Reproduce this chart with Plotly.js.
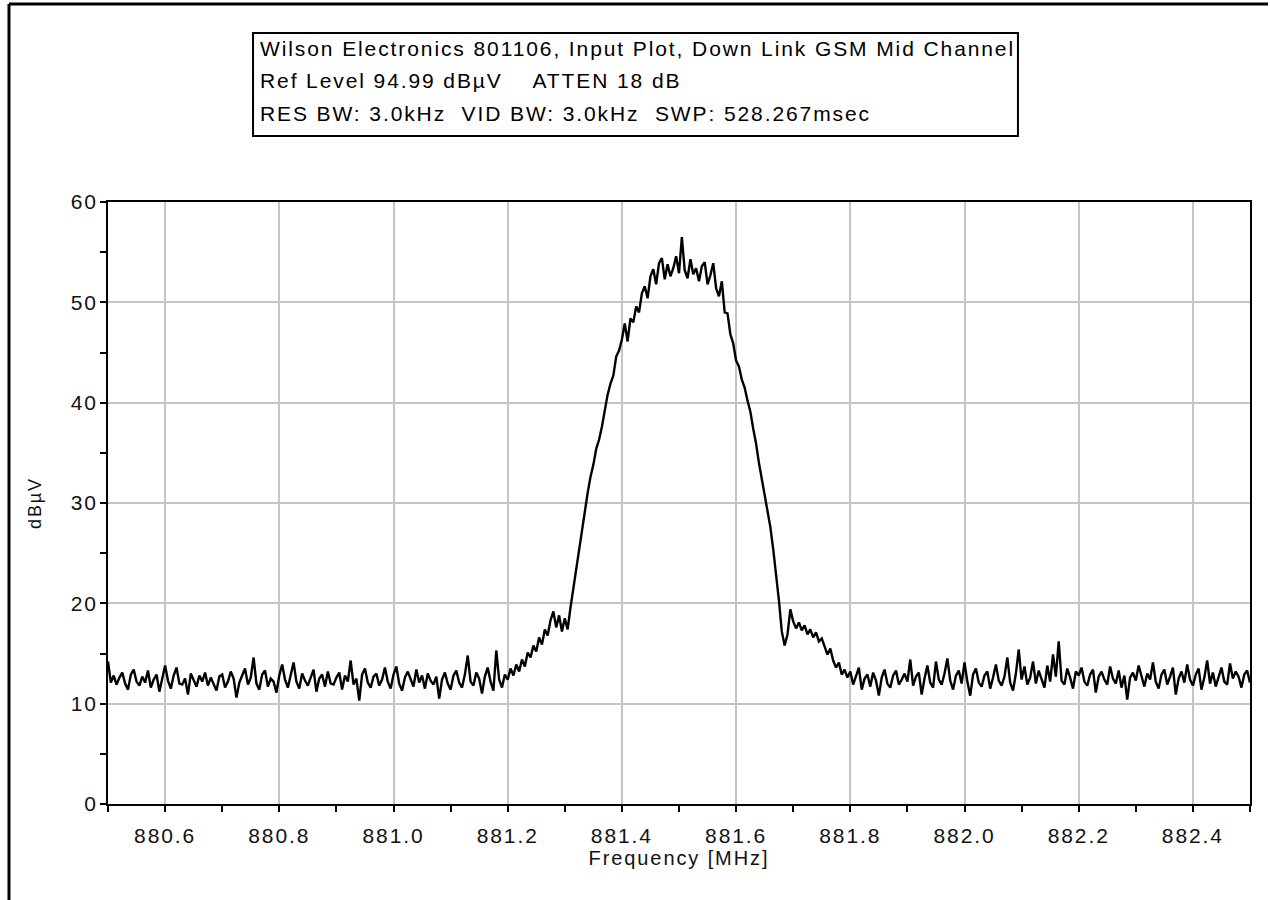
<!DOCTYPE html>
<html>
<head>
<meta charset="utf-8">
<script src="https://cdn.plot.ly/plotly-3.0.1.min.js"></script>
<style>
  html, body { margin: 0; padding: 0; background: #ffffff; }
  #chart { width: 1270px; height: 900px; }
  /* the instrument printout uses a wide sans face; applied to every svg text so measured sizes agree */
  svg text { letter-spacing: 1.9px; }
</style>
</head>
<body>
<div id="chart"></div>
<script>
// Sweep settings: first point and spacing of the spectrum analyser trace (MHz)
const START_MHZ = 880.5;
const STEP_MHZ = 0.005;

// Measured level per sweep point (dBµV), 20 points per 0.1 MHz row
const levelDbuv = [
  14.2, 12.1, 12.8, 11.9, 12.6, 13.1, 12.0, 11.4, 12.9, 13.4, 12.2, 11.8, 12.7, 12.1, 13.3, 11.6, 12.4, 12.9, 11.2, 12.6,
  13.8, 12.3, 11.5, 12.8, 13.6, 12.0, 11.9, 12.5, 10.9, 13.0, 12.4, 11.7, 12.8, 12.2, 13.1, 11.8, 12.6, 12.0, 11.3, 12.7,
  12.9, 11.6, 12.2, 13.2, 12.5, 10.6, 12.1, 12.8, 13.5, 11.9, 12.6, 14.6, 12.0, 11.4, 12.9, 13.3, 11.7, 12.5, 12.2, 11.1,
  12.8, 13.9, 12.4, 11.6, 12.7, 14.1, 12.2, 11.5, 13.0, 12.3, 11.8, 12.6, 13.4, 11.2, 12.5, 12.9, 11.7, 13.2, 12.0, 11.9,
  12.6, 13.1, 11.4, 12.8, 12.2, 14.3, 11.9, 12.5, 10.3, 12.9, 13.5, 12.1, 11.6, 12.7, 13.0, 11.8, 12.4, 13.6, 12.2, 11.5,
  12.9, 13.7, 12.0, 11.3, 12.6, 13.2, 12.4, 11.7, 13.4, 12.1, 12.8, 11.5, 13.0, 12.3, 11.9, 12.7, 10.5, 12.4, 13.1, 12.0,
  11.4, 12.8, 13.3, 12.1, 11.6, 12.9, 14.8, 12.2, 11.8, 13.1, 12.5, 11.0, 12.7, 13.6, 12.2, 11.3, 15.3, 12.4, 11.6, 12.9,
  12.4, 13.5, 12.8, 13.9, 13.2, 14.4, 13.7, 15.1, 14.6, 15.8, 15.2, 16.6, 15.9, 17.4, 16.8, 18.3, 19.2, 17.6, 18.8, 17.2,
  18.5, 17.4, 19.6, 21.5, 23.8, 25.6, 27.4, 29.3, 31.0, 32.6, 33.8, 35.4, 36.3, 37.6, 39.2, 40.8, 41.9, 42.7, 44.6, 45.2,
  46.3, 47.9, 46.1, 48.4, 48.0, 49.6, 49.0, 50.9, 51.6, 50.4, 52.6, 53.3, 51.8, 53.9, 54.4, 52.3, 53.8, 52.6, 53.4, 54.6,
  52.9, 56.5, 53.2, 52.4, 54.3, 52.8, 53.4, 52.1, 53.6, 54.0, 51.8, 52.7, 53.9, 51.4, 50.6, 52.1, 49.0, 48.9, 46.8, 45.9,
  44.2, 43.6, 42.3, 41.5, 40.2, 39.1, 37.4, 35.9, 34.0, 32.3, 30.6, 29.1, 27.6, 25.4, 23.1, 20.3, 17.2, 15.8, 16.9, 19.4,
  18.2, 17.5, 18.1, 17.3, 17.8, 16.9, 17.4, 16.6, 17.1, 16.2, 16.5, 15.7, 14.9, 15.5, 14.3, 13.6, 14.1, 12.9, 13.4, 12.6,
  13.2, 11.9, 12.7, 13.6, 11.4, 12.5, 12.9, 11.7, 13.1, 12.3, 10.8, 12.6, 13.4, 12.0, 11.6, 12.8, 13.3, 11.9, 12.4, 13.0,
  12.2, 14.4, 11.8, 12.7, 13.1, 10.9, 12.5, 13.8, 12.1, 11.6, 14.2, 12.4, 11.9, 13.0, 14.5, 12.3, 11.4, 12.8, 13.3, 12.0,
  14.1, 12.2, 10.8, 12.9, 13.5, 12.1, 11.7, 12.8, 13.2, 11.5, 12.6, 13.9, 12.3, 11.8, 12.7, 14.6, 12.1, 11.3, 13.0, 15.4,
  12.4, 13.7, 11.9, 12.6, 14.2, 12.0, 13.3, 12.5, 11.6, 13.8, 12.2, 14.9, 12.7, 16.2, 12.3, 11.9, 13.5, 12.6, 11.5, 13.2,
  12.8, 13.6, 12.2, 11.8, 12.9, 13.4, 11.1, 12.7, 13.2, 12.4, 11.9, 13.7, 12.5, 12.0, 13.3, 11.6, 12.8, 10.4, 12.6, 13.1,
  12.3, 13.8, 12.6, 11.7, 13.0, 12.4, 14.1, 12.2, 11.5, 12.9, 13.4, 11.9, 12.7, 13.6, 10.9, 12.5, 13.2, 12.1, 13.9, 12.4,
  11.8, 12.9, 13.5, 11.4, 12.6, 14.3, 12.0, 13.1, 11.7, 12.8, 13.6, 12.2, 11.9, 14.0, 12.5, 13.2, 12.7, 11.6, 12.9, 13.3,
  12.1
];

// Axis ticks and labels
const xTickVals = [880.6, 880.8, 881.0, 881.2, 881.4, 881.6, 881.8, 882.0, 882.2, 882.4];
const xTickText = ["880.6", "880.8", "881.0", "881.2", "881.4", "881.6", "881.8", "882.0", "882.2", "882.4"];
const yTickVals = [0, 10, 20, 30, 40, 50, 60];

// Header lines shown in the boxed caption
const headerLines = [
  "Wilson Electronics 801106, Input Plot, Down Link GSM Mid Channel",
  "Ref Level 94.99 dBµV    ATTEN 18 dB",
  "RES BW: 3.0kHz  VID BW: 3.0kHz  SWP: 528.267msec"
];

const FONT = "Liberation Sans, Arial, sans-serif";

const trace = {
  type: "scatter",
  mode: "lines",
  x0: START_MHZ,
  dx: STEP_MHZ,
  y: levelDbuv,
  line: { color: "#000000", width: 2.4 },
  hoverinfo: "x+y",
  showlegend: false
};

// Caption box geometry (paper coordinates)
const boxX0 = 0.127, boxX1 = 0.7968, boxY0 = 1.1096, boxY1 = 1.2807;
const lineYs = [1.2542, 1.2010, 1.1478];

const annotations = headerLines.map((t, i) => ({
  xref: "paper", yref: "paper",
  x: 0.1313, y: lineYs[i],
  xanchor: "left", yanchor: "middle",
  align: "left",
  text: t,
  showarrow: false,
  font: { family: FONT, size: 21, color: "#000000" }
}));

const layout = {
  width: 1270,
  height: 900,
  paper_bgcolor: "#ffffff",
  plot_bgcolor: "#ffffff",
  margin: { l: 108, r: 20, t: 202, b: 96, pad: 0 },
  font: { family: FONT, color: "#111111" },
  xaxis: {
    range: [880.5, 882.5],
    tickmode: "array",
    tickvals: xTickVals,
    ticktext: xTickText,
    ticks: "outside",
    ticklen: 6,
    tickwidth: 2,
    tickcolor: "#000000",
    ticklabelstandoff: 6,
    tickfont: { family: FONT, size: 21, color: "#111111" },
    showline: true,
    linecolor: "#000000",
    linewidth: 2,
    mirror: true,
    showgrid: true,
    gridcolor: "#c4c4c4",
    gridwidth: 2,
    zeroline: false,
    minor: { dtick: 0.1, tick0: 880.5, ticks: "outside", ticklen: 6, tickwidth: 2, tickcolor: "#000000", showgrid: false },
    title: { text: "Frequency [MHz]", font: { family: FONT, size: 20, color: "#111111" }, standoff: 0 }
  },
  yaxis: {
    range: [0, 60],
    tickmode: "array",
    tickvals: yTickVals,
    ticks: "outside",
    ticklen: 6,
    tickwidth: 2,
    tickcolor: "#000000",
    ticklabelstandoff: -2,
    tickfont: { family: FONT, size: 21, color: "#111111" },
    showline: true,
    linecolor: "#000000",
    linewidth: 2,
    mirror: true,
    showgrid: true,
    gridcolor: "#c4c4c4",
    gridwidth: 2,
    zeroline: false,
    minor: { dtick: 5, tick0: 0, ticks: "outside", ticklen: 6, tickwidth: 2, tickcolor: "#000000", showgrid: false },
    title: { text: "dBµV", font: { family: FONT, size: 18, color: "#111111" }, standoff: 24 }
  },
  shapes: [
    // caption frame
    { type: "rect", xref: "paper", yref: "paper", x0: boxX0, x1: boxX1, y0: boxY0, y1: boxY1,
      line: { color: "#000000", width: 2 }, fillcolor: "rgba(0,0,0,0)" },
    // page frame: top rule and left rule
    { type: "line", xref: "paper", yref: "paper", x0: -0.0867, x1: 1.0158, y0: 1.3289, y1: 1.3289,
      line: { color: "#000000", width: 3 } },
    { type: "line", xref: "paper", yref: "paper", x0: -0.0867, x1: -0.0867, y0: 1.3289, y1: -0.17,
      line: { color: "#000000", width: 3 } }
  ],
  annotations: annotations
};

Plotly.newPlot("chart", [trace], layout, { displayModeBar: false, staticPlot: true });
</script>
</body>
</html>
